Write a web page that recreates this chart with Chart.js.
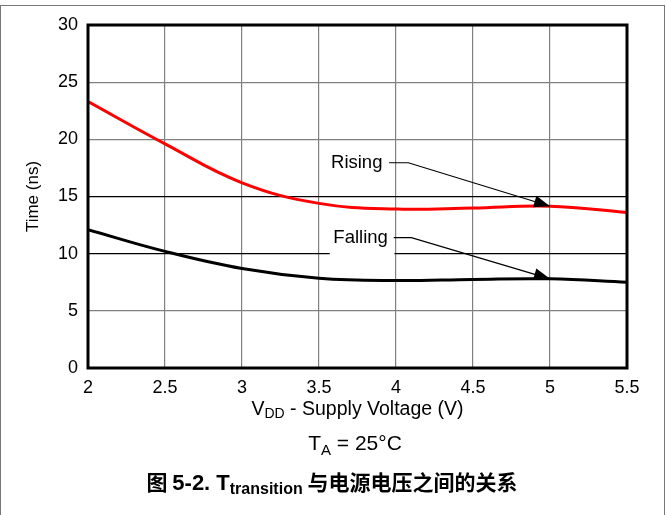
<!DOCTYPE html>
<html lang="zh">
<head>
    <meta charset="UTF-8">
    <title>T transition vs VDD</title>
    <style>
        body {margin: 0; background: #fff;}
        .chart-wrap {width: 666px; height: 515px;}
    </style>
</head>
<body>
    <div class="chart-wrap">
        <canvas id="myChart" width="666" height="515"></canvas>
    </div>

    <script src="https://cdn.jsdelivr.net/npm/chart.js@4.4.1/dist/chart.umd.min.js"></script>
    <script>

// 数据
const voltage = [2, 2.5, 3, 3.5, 4, 4.5, 5, 5.5];
const rising  = [23.3, 19.6, 16.2, 14.4, 13.9, 14.0, 14.15, 13.6];
const falling = [12.1, 10.2, 8.7, 7.85, 7.65, 7.75, 7.8, 7.5];
const xTicks = [2, 2.5, 3, 3.5, 4, 4.5, 5, 5.5];
const yTicks = [0, 5, 10, 15, 20, 25, 30];

const FONT = "'Liberation Sans', Arial, sans-serif";
const CJK = "'Noto Sans CJK SC', 'Liberation Sans', sans-serif";

function toPoints(ys) {
    return voltage.map((v, i) => ({x: v, y: ys[i]}));
}

// 带下标的文字
function drawRuns(ctx, runs, cx, y, align) {
    let total = 0;
    runs.forEach(r => { ctx.font = r.font; total += ctx.measureText(r.text).width; });
    let x = align === 'center' ? cx - total / 2 : cx;
    ctx.textAlign = 'left';
    ctx.textBaseline = 'alphabetic';
    runs.forEach(r => {
        ctx.font = r.font;
        ctx.fillText(r.text, x, y + (r.dy || 0));
        x += ctx.measureText(r.text).width;
    });
}

function arrow(ctx, pts) {
    ctx.save();
    ctx.strokeStyle = '#000';
    ctx.fillStyle = '#000';
    ctx.lineWidth = 1.2;
    ctx.beginPath();
    ctx.moveTo(pts[0][0], pts[0][1]);
    for (let i = 1; i < pts.length; i++) ctx.lineTo(pts[i][0], pts[i][1]);
    ctx.stroke();
    const a = pts[pts.length - 1];
    const b = pts[pts.length - 2];
    const ang = Math.atan2(a[1] - b[1], a[0] - b[0]);
    const len = 16, half = 6;
    ctx.beginPath();
    ctx.moveTo(a[0], a[1]);
    ctx.lineTo(a[0] - len * Math.cos(ang) + half * Math.sin(ang), a[1] - len * Math.sin(ang) - half * Math.cos(ang));
    ctx.lineTo(a[0] - len * Math.cos(ang) - half * Math.sin(ang), a[1] - len * Math.sin(ang) + half * Math.cos(ang));
    ctx.closePath();
    ctx.fill();
    ctx.restore();
}

const decor = {
    id: 'decor',
    beforeDraw(chart) {
        const c = chart.ctx;
        c.save();
        c.fillStyle = '#fff';
        c.fillRect(0, 0, chart.width, chart.height);
        c.restore();
    },
    beforeDatasetsDraw(chart) {
        // "Falling" 标签的白底
        const c = chart.ctx, xs = chart.scales.x, ys = chart.scales.y;
        c.save();
        c.fillStyle = '#fff';
        const x0 = xs.getPixelForValue(3.57), x1 = xs.getPixelForValue(3.99);
        const y0 = ys.getPixelForValue(13.1), y1 = ys.getPixelForValue(9.7);
        c.fillRect(x0, y0, x1 - x0, y1 - y0);
        c.restore();
    },
    afterDatasetsDraw(chart) {
        const c = chart.ctx, xs = chart.scales.x, ys = chart.scales.y;
        const px = v => xs.getPixelForValue(v), py = v => ys.getPixelForValue(v);
        const area = chart.chartArea;

        // 标注
        c.save();
        c.fillStyle = '#000';
        c.font = '18.5px ' + FONT;
        c.textAlign = 'center';
        c.textBaseline = 'middle';
        c.fillText('Rising', px(3.745), py(17.95));
        c.fillText('Falling', px(3.77), py(11.4));
        c.restore();
        arrow(c, [[px(3.955), py(17.95)], [px(4.08), py(17.95)], [px(5.0), py(14.15)]]);
        arrow(c, [[px(3.985), py(11.4)], [px(4.1), py(11.4)], [px(5.0), py(7.8)]]);

        // 坐标框
        c.save();
        c.strokeStyle = '#000';
        c.lineWidth = 3;
        c.strokeRect(area.left, area.top, area.right - area.left, area.bottom - area.top);
        c.restore();

        // 轴标题
        c.save();
        c.fillStyle = '#000';
        c.translate(33, (area.top + area.bottom) / 2);
        c.rotate(-Math.PI / 2);
        c.font = '17px ' + FONT;
        c.textAlign = 'center';
        c.textBaseline = 'middle';
        c.fillText('Time (ns)', 0, 0);
        c.restore();

        c.save();
        c.fillStyle = '#000';
        const mid = (area.left + area.right) / 2;
        drawRuns(c, [
            {text: 'V', font: '19.5px ' + FONT},
            {text: 'DD', font: '14px ' + FONT, dy: 3},
            {text: ' - Supply Voltage (V)', font: '19.5px ' + FONT}
        ], mid, 415, 'center');

        drawRuns(c, [
            {text: 'T', font: '21px ' + FONT},
            {text: 'A', font: '15px ' + FONT, dy: 5},
            {text: ' = 25°C', font: '21px ' + FONT}
        ], 355, 450, 'center');

        drawRuns(c, [
            {text: '图 ', font: 'bold 21px ' + CJK},
            {text: '5-2. T', font: 'bold 22px ' + FONT},
            {text: 'transition', font: 'bold 16px ' + FONT, dy: 4},
            {text: ' 与电源电压之间的关系', font: 'bold 21px ' + CJK}
        ], 332, 490, 'center');
        c.restore();

        // 外框
        c.save();
        c.strokeStyle = '#777';
        c.lineWidth = 1;
        c.strokeRect(0.5, 5.5, 664, 520);
        c.restore();
    }
};

const ctx = document.getElementById('myChart').getContext('2d');

const config = {
    type: 'line',
    plugins: [decor],
    data: {
        datasets: [
            {label: 'Rising', data: toPoints(rising), borderColor: '#ff0000', borderWidth: 3,
             pointRadius: 0, tension: 0.4, fill: false},
            {label: 'Falling', data: toPoints(falling), borderColor: '#000000', borderWidth: 3,
             pointRadius: 0, tension: 0.4, fill: false}
        ]
    },
    options: {
        responsive: false,
        animation: false,
        layout: {padding: {top: 25, right: 39, left: 0, bottom: 0}},
        plugins: {
            legend: {display: false},
            tooltip: {enabled: false}
        },
        scales: {
            x: {
                type: 'linear',
                min: 2, max: 5.5,
                afterBuildTicks: s => { s.ticks = xTicks.map(v => ({value: v})); },
                afterFit: s => { s.height = 147; },
                ticks: {color: '#000', font: {family: FONT, size: 18}, padding: 9,
                        maxRotation: 0, autoSkip: false,
                        callback: v => String(v)},
                grid: {color: '#808080', lineWidth: 1.2, drawTicks: false},
                border: {display: false}
            },
            y: {
                min: 0, max: 30,
                afterBuildTicks: s => { s.ticks = yTicks.map(v => ({value: v})); },
                afterFit: s => { s.width = 88; },
                ticks: {color: '#000', font: {family: FONT, size: 18}, padding: 10},
                grid: {
                    color: c => (c.tick && (c.tick.value === 10 || c.tick.value === 15)) ? '#000' : '#808080',
                    lineWidth: 1.2, drawTicks: false
                },
                border: {display: false}
            }
        }
    }
};

const myChart = new Chart(ctx, config);
    </script>
</body>
</html>
